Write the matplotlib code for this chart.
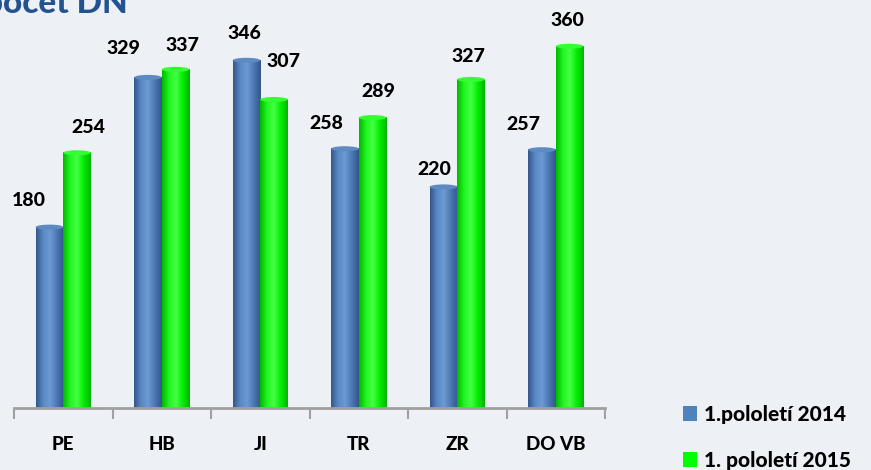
import matplotlib.pyplot as plt
import numpy as np
from matplotlib.colors import LinearSegmentedColormap
from matplotlib.patches import Ellipse, Patch

regions = ["PE", "HB", "JI", "TR", "ZR", "DO VB"]
vals_2014 = [180, 329, 346, 258, 220, 257]
vals_2015 = [254, 337, 307, 289, 327, 360]
labels = ["1.pololetí 2014", "1. pololetí 2015"]

# label nudges (pixels) so numbers sit like in the original slide
off_2014 = [(-21, 27), (-25, 29), (-2, 27), (-19, 25), (-9, 17), (-19, 25)]
off_2015 = [(11, 25), (7, 24), (9, 38), (6, 26), (-3, 23), (-2, 26)]

plt.rcParams['font.family'] = ['Lato', 'DejaVu Sans']

bg = '#EDF1F6'
fig = plt.figure(figsize=(8.71, 4.70), dpi=100, facecolor=bg)
ax = fig.add_axes([14 / 871, 62 / 470, 591 / 871, 408 / 470])
ax.set_facecolor(bg)

blue_cm = LinearSegmentedColormap.from_list('b', ['#34578A', '#5A88C4', '#6C9AD3', '#4C78B3', '#33568A'])
green_cm = LinearSegmentedColormap.from_list('g', ['#00B800', '#22F522', '#44FF44', '#00EE00', '#00B400'])

w = 0.28
x = np.arange(len(regions))
grad = np.linspace(0, 1, 64).reshape(1, -1)


def cyl(xc, h, cmap, top):
    x0, x1 = xc - w / 2, xc + w / 2
    ax.imshow(grad, cmap=cmap, extent=[x0, x1, 0, h], aspect='auto', zorder=2,
              interpolation='bilinear')
    ax.add_patch(Ellipse((xc, h), w, 5, facecolor=top, edgecolor='none', zorder=3))


for i in range(len(regions)):
    cyl(x[i] - w / 2, vals_2014[i], blue_cm, '#5E8AC2')
    cyl(x[i] + w / 2, vals_2015[i], green_cm, '#33FF33')
    for xc, v, off in [(x[i] - w / 2, vals_2014[i], off_2014[i]),
                       (x[i] + w / 2, vals_2015[i], off_2015[i])]:
        ax.annotate(str(v), (xc, v), xytext=off, textcoords='offset pixels',
                    ha='center', va='center', fontsize=14, fontweight='black',
                    color='black', zorder=4)

ax.set_xlim(-0.5, len(regions) - 0.5)
ax.set_ylim(0, 406)
for s in ['top', 'right', 'left']:
    ax.spines[s].set_visible(False)
ax.spines['bottom'].set_color('#A0A0A0')
ax.spines['bottom'].set_linewidth(2)
ax.set_yticks([])
ax.set_xticks(x)
ax.set_xticklabels(regions, fontsize=13.5, fontweight='black')
ax.set_xticks(np.arange(-0.5, len(regions)), minor=True)
ax.tick_params(axis='x', which='major', length=0, pad=20)
ax.tick_params(axis='x', which='minor', length=8, width=1.5, color='#A0A0A0', direction='out')

fig.text(-16 / 871, 1 - 13 / 470, "počet DN", fontsize=24, fontweight='black',
         color='#23538F', va='baseline', ha='left')

handles = [Patch(facecolor='#4F81BD'), Patch(facecolor='#00FF00')]
fig.legend(handles, labels, loc='upper left', bbox_to_anchor=(664 / 871, 1 - 386 / 470),
           frameon=False, handlelength=0.7, handleheight=0.7,
           handletextpad=0.3, labelspacing=1.3, prop={'weight': 'black', 'size': 15})

fig.savefig('out.png', dpi=100, facecolor=bg)
